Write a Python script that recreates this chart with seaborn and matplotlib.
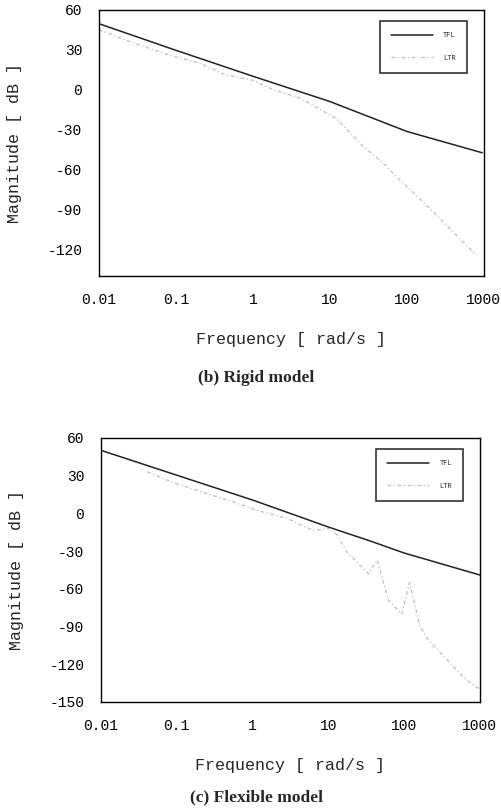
import numpy as np
import pandas as pd
import seaborn as sns
import matplotlib.pyplot as plt
from matplotlib.ticker import FixedLocator, FixedFormatter, NullLocator

# rigid model (b)
rigid_tfl_w = [0.01, 0.1, 1, 10, 100, 950]
rigid_tfl_db = [49.5, 29.5, 10, -9, -31.5, -47.5]
rigid_ltr_w = [0.01, 0.028, 0.092, 0.2, 0.44, 1.0, 1.8, 4.1, 12, 26, 52, 81, 147, 800]
rigid_ltr_db = [45, 35, 25, 20, 11, 7, 0, -6.5, -21.6, -41.7, -56.7, -68, -82, -124.5]

# flexible model (c)
flex_tfl_w = [0.01, 1.03, 10, 36, 100, 1000]
flex_tfl_db = [50.2, 10.4, -10.8, -22, -31.5, -49]
flex_ltr_w = [0.041, 0.086, 0.25, 0.57, 1.15, 2.9, 3.9, 6.4, 10.5, 13, 17.6,
              34, 44, 62, 93, 118, 160, 205, 620, 1000]
flex_ltr_db = [33, 25, 15.7, 9, 2.4, -4, -8, -13.5, -12, -17, -30.7,
               -48, -37, -69, -80, -55, -89, -100, -131, -140]

xticks = [0.01, 0.1, 1, 10, 100, 1000]
xtick_labels = ["0.01", "0.1", "1", "10", "100", "1000"]

sns.set_theme(style="white")
plt.rcParams["font.family"] = ["Liberation Mono", "DejaVu Sans"]

fig = plt.figure(figsize=(5.02, 8.09), dpi=100)
ax1 = fig.add_axes([0.197, 0.659, 0.767, 0.329])
ax2 = fig.add_axes([0.201, 0.1323, 0.755, 0.3263])


def draw(ax, tw, tdb, lw_, ldb, yticks, ylim, caption, cap_y):
    tfl = pd.DataFrame({"w": tw, "db": tdb})
    ltr = pd.DataFrame({"w": lw_, "db": ldb})
    sns.lineplot(data=tfl, x="w", y="db", ax=ax, color="#222222", lw=1.1, label="TFL")
    sns.lineplot(data=ltr, x="w", y="db", ax=ax, color="#bdbdbd", lw=0.9,
                 linestyle=(0, (3, 2, 1, 2)), label="LTR")
    ax.set_xscale("log")
    ax.set_xlim(0.01, 1000)
    ax.set_ylim(*ylim)
    ax.xaxis.set_major_locator(FixedLocator(xticks))
    ax.xaxis.set_major_formatter(FixedFormatter(xtick_labels))
    ax.xaxis.set_minor_locator(NullLocator())
    ax.set_yticks(yticks)
    ax.set_yticklabels([str(v) for v in yticks])
    ax.tick_params(axis="both", labelsize=10.5, direction="in", length=3, width=0.8,
                   colors="black")
    ax.tick_params(axis="x", pad=12)
    ax.tick_params(axis="y", pad=12)
    for s in ax.spines.values():
        s.set_color("black")
        s.set_linewidth(1.0)
    ax.set_xlabel("Frequency [ rad/s ]", fontsize=12, labelpad=18)
    ax.set_ylabel("Magnitude [ dB ]", fontsize=12, labelpad=18)
    leg = ax.legend(loc="upper right", fontsize=5, frameon=True, fancybox=False,
                    handlelength=6, handletextpad=1.5, borderpad=1.6, labelspacing=2.2,
                    bbox_to_anchor=(0.965, 0.97))
    leg.get_frame().set_edgecolor("black")
    leg.get_frame().set_linewidth(1.2)
    fig.text(0.51, cap_y, caption, ha="center", va="center",
             fontsize=12.5, fontweight="bold", family="Liberation Serif")


draw(ax1, rigid_tfl_w, rigid_tfl_db, rigid_ltr_w, rigid_ltr_db,
     [60, 30, 0, -30, -60, -90, -120], (-140, 60), "(b) Rigid model", 1 - 378 / 809)
draw(ax2, flex_tfl_w, flex_tfl_db, flex_ltr_w, flex_ltr_db,
     [60, 30, 0, -30, -60, -90, -120, -150], (-150, 60), "(c) Flexible model", 1 - 797 / 809)

fig.savefig("out.png", dpi=100, facecolor="white")
